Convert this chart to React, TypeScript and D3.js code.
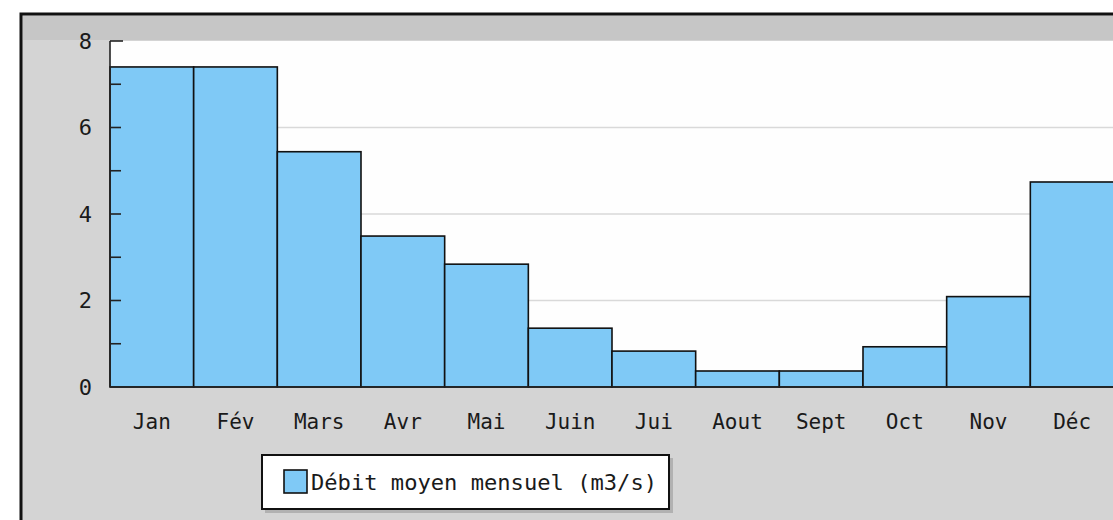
import React from "react";
import * as d3 from "d3";

const months = ["Jan", "Fév", "Mars", "Avr", "Mai", "Juin", "Jui", "Aout", "Sept", "Oct", "Nov", "Déc"];
const debit = [7.4, 7.4, 5.44, 3.49, 2.84, 1.36, 0.83, 0.37, 0.37, 0.93, 2.09, 4.74];
const yTicks = [0, 2, 4, 6, 8];
const yMinorTicks = [1, 2, 3, 4, 5, 6, 7, 8];
const legendLabel = "Débit moyen mensuel (m3/s)";

const W = 1113;
const H = 520;
const FONT = "'DejaVu Sans Mono', 'Liberation Mono', monospace";

export default function App() {
  const x = d3.scaleBand<string>().domain(months).range([110, 1114]).padding(0);
  const y = d3.scaleLinear().domain([0, 8]).range([387, 41]);
  const barFill = "#7fc9f6";

  return (
    <svg
      width={W}
      height={H}
      style={{ position: "fixed", left: 0, top: 0, background: "#ffffff" }}
    >
      {/* outer frame */}
      <rect x={21} y={14} width={W + 20} height={H + 20} fill="#d4d4d4" stroke="#111" strokeWidth={3} />
      <rect x={23} y={16} width={W} height={24} fill="#c6c6c6" />
      {/* plot background */}
      <rect x={110} y={41} width={W} height={346} fill="#fefefe" />
      {/* gridlines */}
      {yTicks.filter((t) => t > 0 && t < 8).map((t) => (
        <line key={t} x1={110} x2={W} y1={y(t)} y2={y(t)} stroke="#d9d9d9" strokeWidth={1.5} />
      ))}
      {/* bars */}
      {months.map((m, i) => (
        <rect
          key={m}
          x={x(m)!}
          y={y(debit[i])}
          width={x.bandwidth()}
          height={y(0) - y(debit[i])}
          fill={barFill}
          stroke="#111"
          strokeWidth={1.6}
        />
      ))}
      {/* y axis */}
      <line x1={110} x2={110} y1={y(8)} y2={y(0)} stroke="#222" strokeWidth={1.6} />
      <line x1={110} x2={W} y1={y(0)} y2={y(0)} stroke="#222" strokeWidth={1.6} />
      {yMinorTicks.map((t) => (
        <line key={t} x1={110} x2={t === 8 ? 123 : 121} y1={y(t)} y2={y(t)} stroke="#222" strokeWidth={1.6} />
      ))}
      {yTicks.map((t) => (
        <text
          key={t}
          x={92}
          y={y(t)}
          dy="0.35em"
          textAnchor="end"
          fontFamily={FONT}
          fontSize={22}
          fill="#1a1a1a"
        >
          {t}
        </text>
      ))}
      {/* x labels */}
      {months.map((m) => (
        <text
          key={m}
          x={x(m)! + x.bandwidth() / 2}
          y={429}
          textAnchor="middle"
          fontFamily={FONT}
          fontSize={21}
          fill="#1a1a1a"
        >
          {m}
        </text>
      ))}
      {/* legend */}
      <rect x={265} y={458} width={408} height={55} fill="#9a9a9a" opacity={0.6} />
      <rect x={262} y={455} width={407} height={54} fill="#ffffff" stroke="#111" strokeWidth={2} />
      <rect x={284} y={470} width={23} height={23} fill={barFill} stroke="#111" strokeWidth={1.6} />
      <text x={311} y={490} fontFamily={FONT} fontSize={22} fill="#1a1a1a" textLength={346} lengthAdjust="spacingAndGlyphs">
        {legendLabel}
      </text>
    </svg>
  );
}
